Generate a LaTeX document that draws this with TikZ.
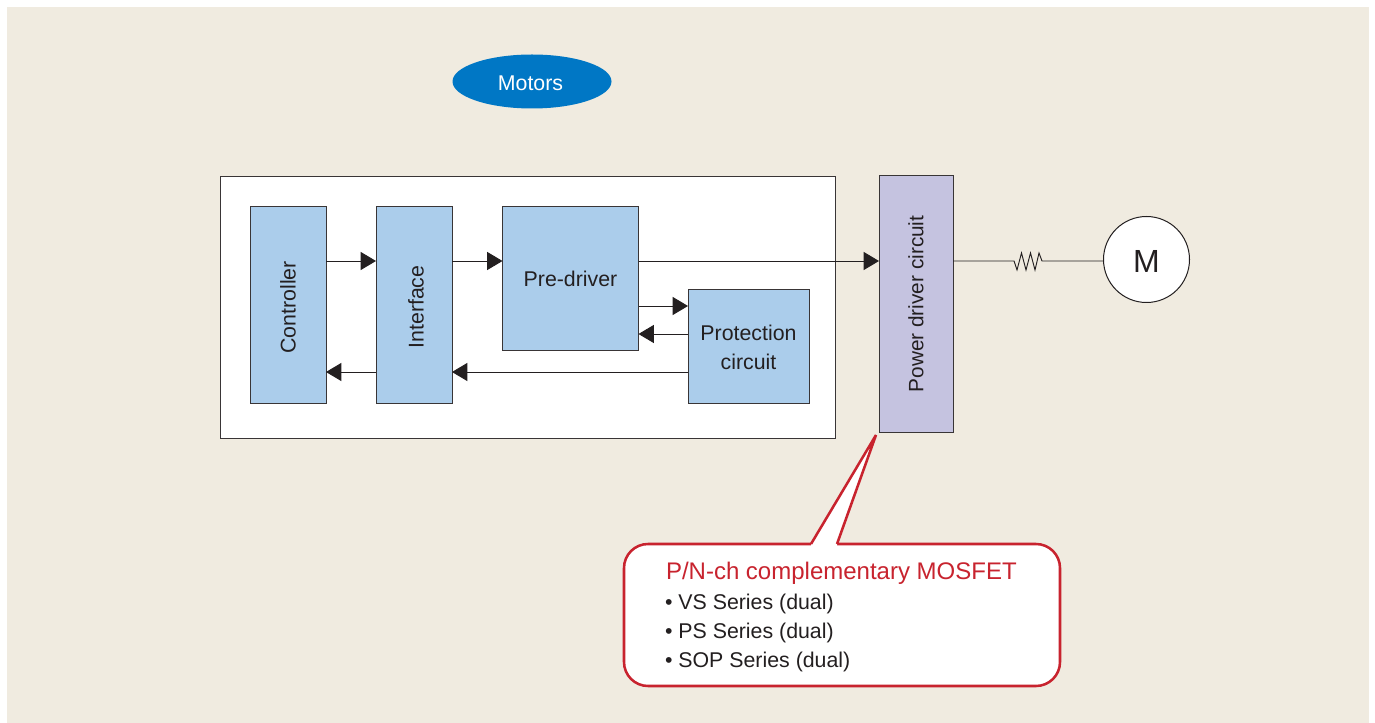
\documentclass[tikz,border=0pt]{standalone}
\usepackage{fontspec}
\setmainfont{Liberation Sans}
\usetikzlibrary{arrows.meta,shapes.geometric,calc}
\definecolor{bgc}{HTML}{F0EBE0}
\definecolor{blk}{HTML}{ABCDEB}
\definecolor{pur}{HTML}{C5C3E0}
\definecolor{redc}{HTML}{C8232E}
\definecolor{oval}{HTML}{0077C5}
\definecolor{ink}{HTML}{231F20}
\tikzset{
  x=0.75pt,y=-0.75pt,
  every node/.style={inner sep=0pt,outer sep=0pt,text=ink,font=\fontsize{16pt}{21.6pt}\selectfont},
  blockbox/.style={draw=ink!90,line width=0.75pt,fill=blk,align=center},
  conn/.style={draw=ink,line width=0.7pt},
  arr/.style={conn,-{Triangle[length=11.5pt,width=13.5pt]}},
  smalltext/.style={anchor=base west,font=\fontsize{16pt}{18pt}\selectfont},
}
\begin{document}
\begin{tikzpicture}
\useasboundingbox (0,0) rectangle (1375,723);
\fill[bgc] (7,7) rectangle (1369,723);
% outer white panel
\node[draw=ink!90,line width=0.75pt,fill=white,minimum width=615*0.75pt,minimum height=262*0.75pt] (panel) at (527.5,307.5) {};
% oval
\node[ellipse,fill=oval,minimum width=159*0.75pt,minimum height=54*0.75pt] (motors) at (532,81.5) {};
\node at (530.5,83) {\textcolor{white}{Motors}};
% blocks
\node[blockbox,minimum width=76*0.75pt,minimum height=197*0.75pt] (ctrl) at (288,305.5) {};
\node[rotate=90] at (288,307.5) {Controller};
\node[blockbox,minimum width=76*0.75pt,minimum height=197*0.75pt] (iface) at (414,305.5) {};
\node[rotate=90] at (416,307) {Interface};
\node[blockbox,minimum width=136*0.75pt,minimum height=144*0.75pt] (pre) at (570.5,279) {Pre-driver};
\node[blockbox,minimum width=121*0.75pt,minimum height=114*0.75pt] (prot) at (748.5,347) {Protection\\circuit};
\node[blockbox,fill=pur,minimum width=74*0.75pt,minimum height=257*0.75pt] (power) at (916,304.5) {};
\node[rotate=90,font=\fontsize{15.6pt}{20pt}\selectfont] at (916,304) {Power driver circuit};
\node[circle,draw=ink,line width=0.75pt,fill=white,minimum size=86*0.75pt] (motor) at (1146.5,259.5) {};
\node[font=\fontsize{24pt}{28pt}\selectfont] at (1146.5,261.5) {M};
% connectors
\draw[arr] (ctrl.east |- 0,261) -- (iface.west |- 0,261);
\draw[arr] (iface.east |- 0,261) -- (pre.west |- 0,261);
\draw[arr] (pre.east |- 0,261) -- (power.west |- 0,261);
\draw[arr] (pre.east |- 0,306) -- (prot.west |- 0,306);
\draw[arr] (prot.west |- 0,334) -- (pre.east |- 0,334);
\draw[arr] (prot.west |- 0,372) -- (iface.east |- 0,372);
\draw[arr] (iface.west |- 0,372) -- (ctrl.east |- 0,372);
\coordinate (rl) at (1014,261);
\coordinate (rr) at (1042,261);
\draw[conn,line join=miter] (power.east |- rl) -- (rl) -- (1017,270) -- (1021.5,253) -- (1026,270) -- (1030.5,253) -- (1035,270) -- (1039,253) -- (rr) -- (motor.west |- rr);
% callout
\node[draw=redc,line width=1.9pt,fill=white,rounded corners=24*0.75pt,minimum width=436*0.75pt,minimum height=142*0.75pt] (callout) at (842,615) {};
\coordinate (tip) at (876,435);
\coordinate (tl) at (811,544);
\coordinate (tr) at (837,544);
\fill[white] (tl) -- (tip) -- (tr) -- (837,548) -- (811,548) -- cycle;
\draw[redc,line width=1.9pt,line join=miter] (tl) -- (tip) -- (tr);
\node[anchor=base west,font=\fontsize{18pt}{22pt}\selectfont] (title) at (666,579) {\textcolor{redc}{P/N-ch complementary MOSFET}};
\node[smalltext] (s1) at (665,609) {• VS Series (dual)};
\node[smalltext] (s2) at (665,638) {• PS Series (dual)};
\node[smalltext] (s3) at (665,667) {• SOP Series (dual)};
\end{tikzpicture}
\end{document}
